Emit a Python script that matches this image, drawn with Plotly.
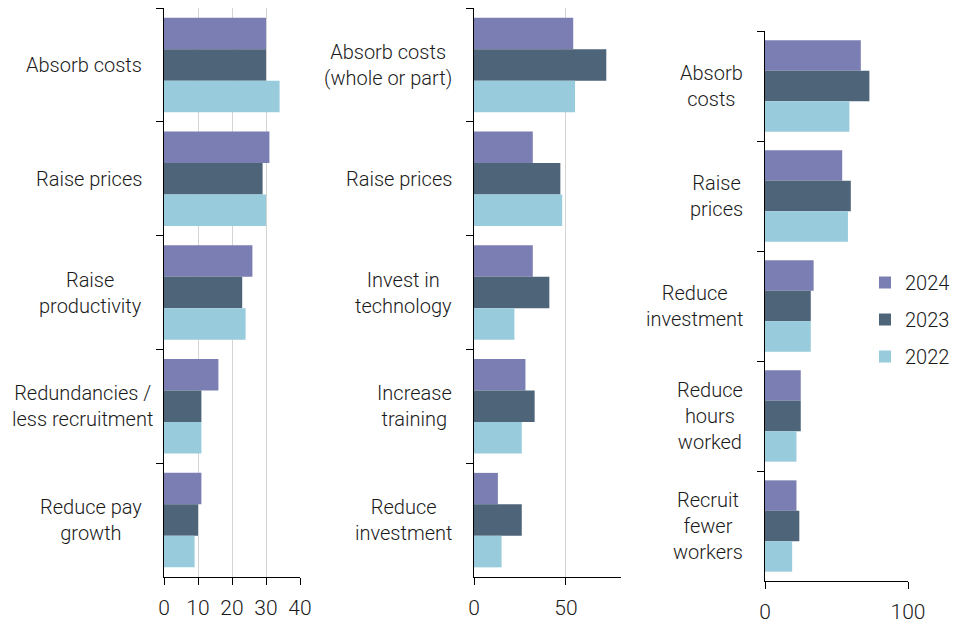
import plotly.graph_objects as go

years = ["2024", "2023", "2022"]
colors = {"2024": "#7b7eb2", "2023": "#4d6479", "2022": "#98cbdb"}

cats1 = ["Absorb costs", "Raise prices", "Raise<br>productivity",
         "Redundancies /<br>less recruitment", "Reduce pay<br>growth"]
vals1 = {"2024": [30, 31, 26, 16, 11],
         "2023": [30, 29, 23, 11, 10],
         "2022": [34, 30, 24, 11, 9]}

cats2 = ["Absorb costs<br>(whole or part)", "Raise prices", "Invest in<br>technology",
         "Increase<br>training", "Reduce<br>investment"]
vals2 = {"2024": [54, 32, 32, 28, 13],
         "2023": [72, 47, 41, 33, 26],
         "2022": [55, 48, 22, 26, 15]}

cats3 = ["Absorb<br>costs", "Raise<br>prices", "Reduce<br>investment",
         "Reduce<br>hours<br>worked", "Recruit<br>fewer<br>workers"]
vals3 = {"2024": [67, 54, 34, 25, 22],
         "2023": [73, 60, 32, 25, 24],
         "2022": [59, 58, 32, 22, 19]}

panels = [
    (cats1, vals1, "x", "y", False),
    (cats2, vals2, "x2", "y2", False),
    (cats3, vals3, "x3", "y3", True),
]

# label placement style (pixels left of the axis)
LABEL_GAP = 20
LABEL_GAP_SPECIAL = {"Redundancies /<br>less recruitment": 9}

FONT = "Roboto, sans-serif"
FS = 20
WT = 300
TXT = "#1a1a1a"
OFF = 8  # page body margin
W, H = 960 - 2 * OFF, 640 - 2 * OFF

fig = go.Figure()
annotations = []
for cats, vals, xa, ya, leg in panels:
    for yr in years:
        fig.add_trace(go.Bar(
            y=cats, x=vals[yr], orientation="h", name=yr, legendgroup=yr,
            marker=dict(color=colors[yr], line=dict(width=0)),
            xaxis=xa, yaxis=ya, showlegend=leg, hoverinfo="skip"))
    for c in cats:
        annotations.append(dict(
            x=0, xref=f"{xa} domain", y=c, yref=ya, xanchor="right", yanchor="middle",
            xshift=-LABEL_GAP_SPECIAL.get(c, LABEL_GAP), text=c, showarrow=False,
            align="center", font=dict(family=FONT, size=FS, color=TXT, weight=WT)))

def xd(a, b):
    return [(a - OFF) / W, (b - OFF) / W]

def yd(top, bottom):
    return [1 - (bottom - OFF) / H, 1 - (top - OFF) / H]

axis_common_x = dict(showline=True, linecolor="black", linewidth=1.2,
                     ticks="outside", ticklen=7, tickcolor="black",
                     ticklabelstandoff=5,
                     showgrid=True, gridcolor="#d4d4d4", gridwidth=1.3,
                     zeroline=False, fixedrange=True, automargin=False,
                     tickfont=dict(family=FONT, size=FS + 1, color=TXT, weight=WT))
axis_common_y = dict(type="category", autorange="reversed", showline=True,
                     linecolor="black", linewidth=1.2, ticks="outside",
                     tickson="boundaries", ticklen=7, tickcolor="black",
                     showticklabels=False, showgrid=False, zeroline=False,
                     automargin=False, fixedrange=True)

fig.update_layout(
    width=W, height=H, barmode="group", bargap=0.17, bargroupgap=0,
    plot_bgcolor="white", paper_bgcolor="white",
    margin=dict(l=0, r=0, t=0, b=0, autoexpand=False),
    font=dict(family=FONT, size=FS, color=TXT),
    xaxis=dict(domain=xd(164, 300), range=[0, 40], dtick=10, anchor="y", **axis_common_x),
    xaxis2=dict(domain=xd(474, 621), range=[0, 80], dtick=50, anchor="y2", **axis_common_x),
    xaxis3=dict(domain=xd(765, 908), range=[0, 100], dtick=100, anchor="y3", **axis_common_x),
    yaxis=dict(domain=yd(8, 577), anchor="x", **axis_common_y),
    yaxis2=dict(domain=yd(8, 577), anchor="x2", **axis_common_y),
    yaxis3=dict(domain=yd(31, 581), anchor="x3", **axis_common_y),
    legend=dict(x=(865 - OFF) / W, y=1 - (263 - OFF) / H, xanchor="left", yanchor="top",
                bgcolor="rgba(0,0,0,0)",
                font=dict(family=FONT, size=FS, color=TXT, weight=WT),
                traceorder="grouped", itemwidth=30, tracegroupgap=8),
    annotations=annotations,
)

fig.write_html("out.html")
